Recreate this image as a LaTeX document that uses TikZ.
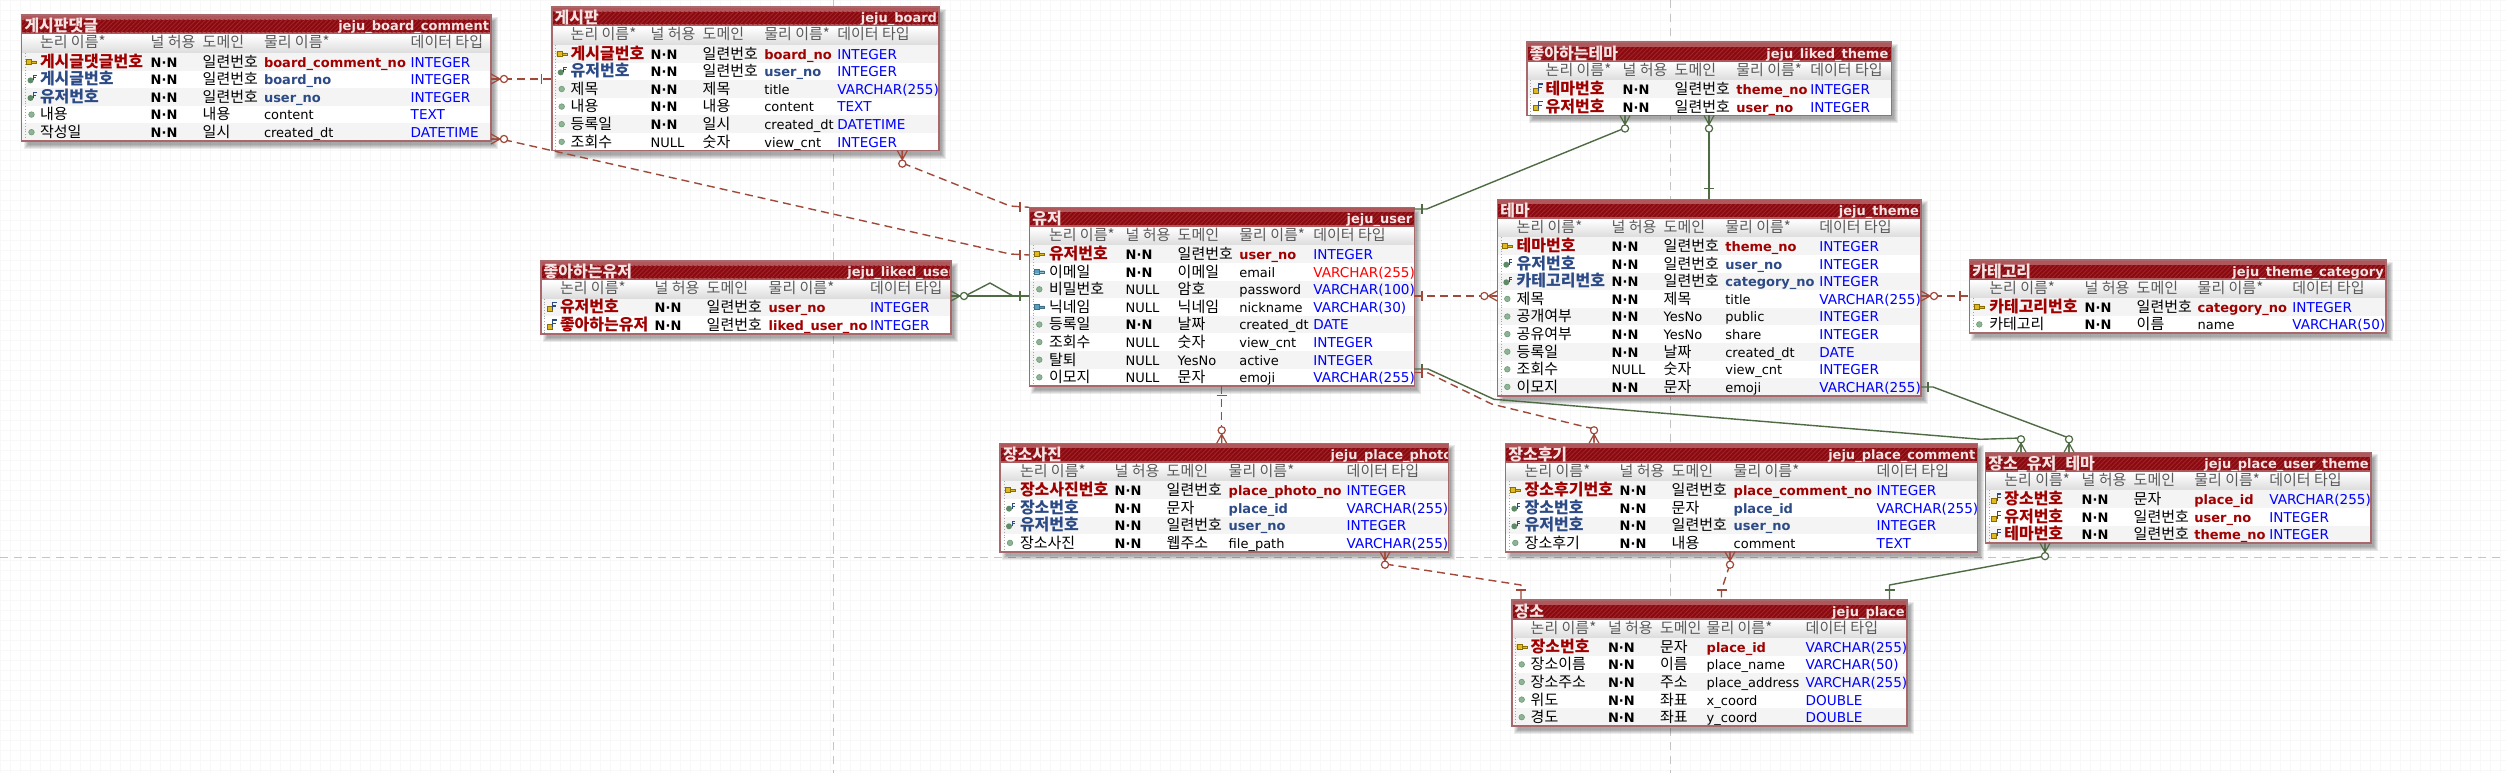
\documentclass[tikz,border=0pt]{standalone}
\usepackage{fontspec}
\setmainfont{DejaVu Sans}
\newfontfamily\krfam{Noto Sans CJK KR}
\usetikzlibrary{patterns.meta}
\definecolor{gridc}{HTML}{F8F8F8}
\definecolor{pagec}{HTML}{C4C4C4}
\definecolor{bord}{HTML}{A9686B}
\definecolor{titd}{HTML}{8A0A10}
\definecolor{titl}{HTML}{B0575B}
\definecolor{hatchc}{HTML}{A0252B}
\definecolor{hdrt}{HTML}{5A5A5A}
\definecolor{hdrb}{HTML}{DCDCDC}
\definecolor{rowc}{HTML}{F4F4F4}
\definecolor{pkred}{HTML}{A00000}
\definecolor{fkblue}{HTML}{2C4A86}
\definecolor{typeb}{HTML}{0000FF}
\definecolor{relr}{HTML}{A0493A}
\definecolor{relg}{HTML}{4F6B43}
\definecolor{keyy}{HTML}{E0B820}
\definecolor{keyd}{HTML}{8A6D00}
\definecolor{keyc}{HTML}{5AA0C0}
\definecolor{dotg}{HTML}{8DB593}
\definecolor{dotd}{HTML}{6F9A78}
\definecolor{fkg}{HTML}{5E8A68}
\definecolor{titw}{HTML}{F4E4E4}
\newcommand\krr{\fontsize{15}{15}\selectfont\krfam}
\newcommand\krb{\fontsize{16}{16}\selectfont\krfam\bfseries}
\newcommand\lar{\fontsize{13}{13}\selectfont\rmfamily}
\newcommand\lab{\fontsize{13}{13}\selectfont\rmfamily\bfseries}
\expandafter\def\csname nfpk\endcsname{\krb\color{pkred}}
\expandafter\def\csname nfpf\endcsname{\krb\color{pkred}}
\expandafter\def\csname nffk\endcsname{\krb\color{fkblue}}
\expandafter\def\csname nfnn\endcsname{\krr\color{black}}
\expandafter\def\csname nfuq\endcsname{\krr\color{black}}
\expandafter\def\csname pfpk\endcsname{\lab\color{pkred}}
\expandafter\def\csname pfpf\endcsname{\lab\color{pkred}}
\expandafter\def\csname pffk\endcsname{\lab\color{fkblue}}
\expandafter\def\csname pfnn\endcsname{\lar\color{black}}
\expandafter\def\csname pfuq\endcsname{\lar\color{black}}
\newcommand\NN{{\lar\bfseries N·N}}
\newcommand\NL{{\lar NULL}}
\newcommand\YN{{\lar YesNo}}
\newcount\rowc
\tikzset{
  cell/.style={anchor=base west,inner sep=0pt,outer sep=0pt},
  tablebox/.style={anchor=north west,inner sep=0pt,outer sep=0pt,fill=white},
  rr/.style={color=relr,line width=1.4pt,dash pattern=on 8pt off 5pt,line join=round},
  rg/.style={color=relg,line width=1.4pt,line join=round},
  crow/.pic={\draw[line width=1.2pt] (0,-5)--(9,0)--(0,5) (0,0)--(9,0);
             \draw[line width=1.2pt,fill=white] (13,0) circle (3.6);},
  barm/.pic={\draw[line width=1.2pt] (0,-5)--(0,5);},
  pk/.pic={\fill[keyy,draw=keyd,line width=.4pt] (-5,-2.5) rectangle (0,2) (0,-1)--(5,-1)--(5,1)--(0,1)--cycle;},
  uq/.pic={\fill[keyc,draw=keyc!70!black,line width=.4pt] (-5,-2.5) rectangle (0,2) (0,-1)--(5,-1)--(5,1)--(0,1)--cycle;},
  nn/.pic={\fill[dotg,draw=dotd,line width=.6pt] (0,0) circle (2.8);},
  fk/.pic={\fill[fkg] (-1,1) circle (3);\draw[fkblue,line width=1pt] (2,1)--(2,-4)--(5,-4) (2,-1.5)--(4.5,-1.5);},
  pf/.pic={\fill[keyy,draw=keyd,line width=.4pt] (-4,-1) rectangle (1,4);\draw[fkblue,line width=1.3pt] (2,2)--(2,-5)--(6,-5) (2,-1.5)--(5.5,-1.5);},
}
\newcommand\ercols[5]{\gdef\cA{#1}\gdef\cB{#2}\gdef\cC{#3}\gdef\cD{#4}\gdef\cE{#5}}
\newcommand\ertable[8][2]{%
  \gdef\tid{#2}\gdef\tL{#3}\gdef\tR{#4}\gdef\tT{#5}\global\rowc=0
  \pgfmathsetmacro\tBb{#5+38+17.6*#6}\global\let\tB\tBb
  \pgfmathsetmacro\tW{#4-#3}\pgfmathsetmacro\tH{\tB-#5}
  \foreach \i in {1,...,5}{\fill[black,opacity=.08] ({#3+7-\i},{#5+7-\i}) rectangle ({#4+2+\i},{\tB+3+\i});}
  \node[tablebox,minimum width=\tW pt,minimum height=\tH pt] (#2) at (#3,#5) {};
  \fill[titl] (#3,#5) rectangle (#4,{#5+20});
  \fill[titd] (#3,{#5+5}) rectangle (#4,{#5+17.5});
  \fill[pattern={Lines[angle=45,distance=3.2pt,line width=.9pt]},pattern color=hatchc] (#3,{#5+5}) rectangle (#4,{#5+17.5});
  \shade[top color=white,bottom color=hdrb] (#3,{#5+20}) rectangle (#4,{#5+38});
  \node[cell,text=titw] (#2-title) at ({#3+3},{#5+17}) {\krb #7};
  \begin{scope}
    \clip (#3,#5) rectangle (#4,{#5+20});
    \node[anchor=base east,inner sep=0pt,outer sep=0pt,text=titw] (#2-phys) at ({#4-#1},{#5+16}) {\lab #8};
  \end{scope}
  \node[cell,text=hdrt] (#2-h1) at (\cA,{#5+33}) {\krr 논리 이름*};
  \node[cell,text=hdrt] (#2-h2) at (\cB,{#5+33}) {\krr 널 허용};
  \node[cell,text=hdrt] (#2-h3) at (\cC,{#5+33}) {\krr 도메인};
  \node[cell,text=hdrt] (#2-h4) at (\cD,{#5+33}) {\krr 물리 이름*};
  \node[cell,text=hdrt] (#2-h5) at (\cE,{#5+33}) {\krr 데이터 타입};
}
\newcommand\erow[6]{%
  \pgfmathsetmacro\ry{\tT+38+17.6*\the\rowc}%
  \pgfmathsetmacro\rb{\ry+14.2}%
  \pgfmathsetmacro\rc{\ry+8.8}%
  \pgfmathsetmacro\re{\ry+17.6}%
  \pgfmathsetmacro\ix{\tL+10}%
  \ifodd\rowc\else\fill[rowc] (\tL,\ry) rectangle (\tR,\re);\fi
  \pic at (\ix,\rc) {#1};
  \node[cell] (\tid-r\the\rowc-a) at (\cA,\rb) {\csname nf#1\endcsname #2};
  \node[cell] (\tid-r\the\rowc-b) at (\cB,\rb) {#3};
  \node[cell] (\tid-r\the\rowc-c) at (\cC,\rb) {\krr #4};
  \node[cell] (\tid-r\the\rowc-d) at (\cD,\rb) {\csname pf#1\endcsname #5};
  \node[cell,text=typeb] (\tid-r\the\rowc-e) at (\cE,\rb) {\fontsize{13.6}{13.6}\selectfont\rmfamily #6};
  \global\advance\rowc by 1
}
\newcommand\erend{%
  \draw[gray!70,line width=.8pt,dotted] ({\tL+4},{\tT+38}) -- ({\tL+4},\tB);
  \draw[bord,line width=1.6pt] (\tid.north west) rectangle (\tid.south east);
}
\begin{document}
\begin{tikzpicture}[x=1pt,y=-1pt]
\useasboundingbox (0,0) rectangle (2506,773);
\fill[white] (0,0) rectangle (2506,773);
\draw[gridc,line width=.7pt,step=10pt] (0,0) grid (2506,773);
\draw[pagec,line width=1pt,dash pattern=on 8pt off 6pt] (833.3,0) -- (833.3,773);
\draw[pagec,line width=1pt,dash pattern=on 8pt off 6pt] (1670.7,0) -- (1670.7,773);
\draw[pagec,line width=1pt,dash pattern=on 8pt off 6pt] (0,557.3) -- (2506,557.3);

\ercols{40}{150.7}{202.7}{264}{410.7}
\ertable{comment}{21.5}{491}{15}{5}{게시판댓글}{jeju\_board\_comment}
\erow{pk}{게시글댓글번호}{\NN}{일련번호}{board\_comment\_no}{INTEGER}
\erow{fk}{게시글번호}{\NN}{일련번호}{board\_no}{INTEGER}
\erow{fk}{유저번호}{\NN}{일련번호}{user\_no}{INTEGER}
\erow{nn}{내용}{\NN}{내용}{content}{TEXT}
\erow{nn}{작성일}{\NN}{일시}{created\_dt}{DATETIME}
\erend

\ercols{570.7}{650.7}{702.7}{764.3}{837.3}
\ertable{board}{551.7}{939}{7}{6}{게시판}{jeju\_board}
\erow{pk}{게시글번호}{\NN}{일련번호}{board\_no}{INTEGER}
\erow{fk}{유저번호}{\NN}{일련번호}{user\_no}{INTEGER}
\erow{nn}{제목}{\NN}{제목}{title}{VARCHAR(255)}
\erow{nn}{내용}{\NN}{내용}{content}{TEXT}
\erow{nn}{등록일}{\NN}{일시}{created\_dt}{DATETIME}
\erow{nn}{조회수}{\NL}{숫자}{view\_cnt}{INTEGER}
\erend

\ercols{560}{654.7}{706.7}{768.7}{870}
\ertable[-4]{likeduser}{540.7}{951}{260.7}{2}{좋아하는유저}{jeju\_liked\_user}
\erow{pf}{유저번호}{\NN}{일련번호}{user\_no}{INTEGER}
\erow{pf}{좋아하는유저}{\NN}{일련번호}{liked\_user\_no}{INTEGER}
\erend

\ercols{1049}{1125.7}{1177.7}{1239.3}{1313.3}
\ertable{user}{1029.3}{1414.3}{207.3}{8}{유저}{jeju\_user}
\erow{pk}{유저번호}{\NN}{일련번호}{user\_no}{INTEGER}
\erow{uq}{이메일}{\NN}{이메일}{email}{\textcolor{red}{VARCHAR(255)}}
\erow{nn}{비밀번호}{\NL}{암호}{password}{VARCHAR(100)}
\erow{uq}{닉네임}{\NL}{닉네임}{nickname}{VARCHAR(30)}
\erow{nn}{등록일}{\NN}{날짜}{created\_dt}{DATE}
\erow{nn}{조회수}{\NL}{숫자}{view\_cnt}{INTEGER}
\erow{nn}{탈퇴}{\NL}{\YN}{active}{INTEGER}
\erow{nn}{이모지}{\NL}{문자}{emoji}{VARCHAR(255)}
\erend

\ercols{1545.7}{1622.7}{1674.7}{1736.3}{1810.3}
\ertable[3]{likedtheme}{1526.7}{1891.3}{42.3}{2}{좋아하는테마}{jeju\_liked\_theme}
\erow{pf}{테마번호}{\NN}{일련번호}{theme\_no}{INTEGER}
\erow{pf}{유저번호}{\NN}{일련번호}{user\_no}{INTEGER}
\erend

\ercols{1516.7}{1611.7}{1663.7}{1725.3}{1819.3}
\ertable{theme}{1497.3}{1921}{199.3}{9}{테마}{jeju\_theme}
\erow{pk}{테마번호}{\NN}{일련번호}{theme\_no}{INTEGER}
\erow{fk}{유저번호}{\NN}{일련번호}{user\_no}{INTEGER}
\erow{fk}{카테고리번호}{\NN}{일련번호}{category\_no}{INTEGER}
\erow{nn}{제목}{\NN}{제목}{title}{VARCHAR(255)}
\erow{nn}{공개여부}{\NN}{\YN}{public}{INTEGER}
\erow{nn}{공유여부}{\NN}{\YN}{share}{INTEGER}
\erow{nn}{등록일}{\NN}{날짜}{created\_dt}{DATE}
\erow{nn}{조회수}{\NL}{숫자}{view\_cnt}{INTEGER}
\erow{nn}{이모지}{\NN}{문자}{emoji}{VARCHAR(255)}
\erend

\ercols{1989.3}{2084.7}{2136.7}{2197.7}{2292.3}
\ertable{category}{1969.3}{2385.7}{260}{2}{카테고리}{jeju\_theme\_category}
\erow{pk}{카테고리번호}{\NN}{일련번호}{category\_no}{INTEGER}
\erow{nn}{카테고리}{\NN}{이름}{name}{VARCHAR(50)}
\erend

\ercols{2004.3}{2081.7}{2133.7}{2194.3}{2269.3}
\ertable{put}{1985.3}{2370.7}{452.3}{3}{장소\_유저\_테마}{jeju\_place\_user\_theme}
\erow{pf}{장소번호}{\NN}{문자}{place\_id}{VARCHAR(255)}
\erow{pf}{유저번호}{\NN}{일련번호}{user\_no}{INTEGER}
\erow{pf}{테마번호}{\NN}{일련번호}{theme\_no}{INTEGER}
\erend

\ercols{1020}{1114.7}{1166.7}{1228.7}{1346.7}
\ertable[-4]{photo}{1000}{1448.3}{443.3}{4}{장소사진}{jeju\_place\_photo}
\erow{pk}{장소사진번호}{\NN}{일련번호}{place\_photo\_no}{INTEGER}
\erow{fk}{장소번호}{\NN}{문자}{place\_id}{VARCHAR(255)}
\erow{fk}{유저번호}{\NN}{일련번호}{user\_no}{INTEGER}
\erow{nn}{장소사진}{\NN}{웹주소}{file\_path}{VARCHAR(255)}
\erend

\ercols{1524.7}{1619.7}{1671.7}{1733.7}{1876.7}
\ertable{pcomment}{1505.3}{1977.3}{443.3}{4}{장소후기}{jeju\_place\_comment}
\erow{pk}{장소후기번호}{\NN}{일련번호}{place\_comment\_no}{INTEGER}
\erow{fk}{장소번호}{\NN}{문자}{place\_id}{VARCHAR(255)}
\erow{fk}{유저번호}{\NN}{일련번호}{user\_no}{INTEGER}
\erow{nn}{장소후기}{\NN}{내용}{comment}{TEXT}
\erend

\ercols{1530.7}{1608}{1660}{1706.7}{1805.7}
\ertable{place}{1511.7}{1906.7}{600}{5}{장소}{jeju\_place}
\erow{pk}{장소번호}{\NN}{문자}{place\_id}{VARCHAR(255)}
\erow{nn}{장소이름}{\NN}{이름}{place\_name}{VARCHAR(50)}
\erow{nn}{장소주소}{\NN}{주소}{place\_address}{VARCHAR(255)}
\erow{nn}{위도}{\NN}{좌표}{x\_coord}{DOUBLE}
\erow{nn}{경도}{\NN}{좌표}{y\_coord}{DOUBLE}
\erend

% connectors
\draw[rr] ([shift={(0,64)}]comment.north east) -- ([shift={(0,72)}]board.north west);
\pic[color=relr] at ([shift={(0,64)}]comment.north east) {crow};
\pic[color=relr] at ([shift={(-10,72)}]board.north west) {barm};

\draw[rr] ([shift={(0,-2)}]comment.south east) -- (505,140) -- (1010,254) -- ([shift={(0,47.7)}]user.north west);
\pic[color=relr] at ([shift={(0,-2)}]comment.south east) {crow};
\pic[color=relr] at ([shift={(-9.3,47.7)}]user.north west) {barm};

\draw[rr] ([shift={(350.6,0)}]board.south west) -- (902.3,163) -- (1010,206) -- (user.north west);
\pic[color=relr,rotate=-90] at ([shift={(350.6,0)}]board.south west) {crow};
\pic[color=relr] at ([shift={(-9.3,0)}]user.north west) {barm};

\draw[rg] ([shift={(0,35.3)}]likeduser.north east) -- ([shift={(0,88.7)}]user.north west);
\draw[rg] (965,296) -- (990,283) -- (1013,296);
\pic[color=relg] at ([shift={(0,35.3)}]likeduser.north east) {crow};
\pic[color=relg] at ([shift={(-9.3,88.7)}]user.north west) {barm};

\draw[rr] ([shift={(0,88.7)}]user.north east) -- ([shift={(0,96.7)}]theme.north west);
\pic[color=relr] at ([shift={(7.7,88.7)}]user.north east) {barm};
\pic[color=relr,rotate=180] at ([shift={(0,96.7)}]theme.north west) {crow};

\draw[rr] ([shift={(0,96.7)}]theme.north east) -- ([shift={(0,36)}]category.north west);
\pic[color=relr] at ([shift={(0,96.7)}]theme.north east) {crow};
\pic[color=relr] at ([shift={(-9.3,36)}]category.north west) {barm};

\draw[rg] ([shift={(98.3,0)}]likedtheme.south west) -- (1625,128) -- (1426.7,209) -- ([shift={(0,1.7)}]user.north east);
\pic[color=relg,rotate=-90] at ([shift={(98.3,0)}]likedtheme.south west) {crow};
\pic[color=relg] at ([shift={(7.7,1.7)}]user.north east) {barm};

\draw[rg] ([shift={(182.3,0)}]likedtheme.south west) -- ([shift={(211.7,0)}]theme.north west);
\pic[color=relg,rotate=-90] at ([shift={(182.3,0)}]likedtheme.south west) {crow};
\pic[color=relg,rotate=90] at ([shift={(211.7,-10.6)}]theme.north west) {barm};

\draw[rg] ([shift={(0,161.7)}]user.north east) -- (1428,369) -- (1494,399.3) -- (1980.4,439.3) -- (2021,438) -- ([shift={(35.7,0)}]put.north west);
\pic[color=relg] at ([shift={(7.7,161.7)}]user.north east) {barm};
\pic[color=relg,rotate=90] at ([shift={(35.7,0)}]put.north west) {crow};

\draw[rg] ([shift={(0,187.7)}]theme.north east) -- (1933,387) -- (2069,438) -- ([shift={(83.7,0)}]put.north west);
\pic[color=relg] at ([shift={(7,187.7)}]theme.north east) {barm};
\pic[color=relg,rotate=90] at ([shift={(83.7,0)}]put.north west) {crow};

\draw[rr] ([shift={(0,165.2)}]user.north east) -- (1427,372.5) -- (1491.6,404) -- (1594,429) -- ([shift={(88.7,0)}]pcomment.north west);
\pic[color=relr] at ([shift={(7.7,165.2)}]user.north east) {barm};
\pic[color=relr,rotate=90] at ([shift={(88.7,0)}]pcomment.north west) {crow};

\draw[rr] ([shift={(192.4,0)}]user.south west) -- ([shift={(221.7,0)}]photo.north west);
\pic[color=relr,rotate=90] at ([shift={(192.4,9)}]user.south west) {barm};
\pic[color=relr,rotate=90] at ([shift={(221.7,0)}]photo.north west) {crow};

\draw[rr] ([shift={(385,0)}]photo.south west) -- (1385,564) -- (1521,585) -- ([shift={(9.3,0)}]place.north west);
\pic[color=relr,rotate=-90] at ([shift={(385,0)}]photo.south west) {crow};
\pic[color=relr,rotate=90] at ([shift={(9.3,-10)}]place.north west) {barm};

\draw[rr] ([shift={(224.7,0)}]pcomment.south west) -- (1730,564) -- (1721.5,590) -- ([shift={(209.8,0)}]place.north west);
\pic[color=relr,rotate=-90] at ([shift={(224.7,0)}]pcomment.south west) {crow};
\pic[color=relr,rotate=90] at ([shift={(209.8,-10)}]place.north west) {barm};

\draw[rg] ([shift={(59.7,0)}]put.south west) -- (2045,556) -- (1889.5,585) -- ([shift={(377.8,0)}]place.north west);
\pic[color=relg,rotate=-90] at ([shift={(59.7,0)}]put.south west) {crow};
\pic[color=relg,rotate=90] at ([shift={(377.8,-10)}]place.north west) {barm};
\end{tikzpicture}
\end{document}
